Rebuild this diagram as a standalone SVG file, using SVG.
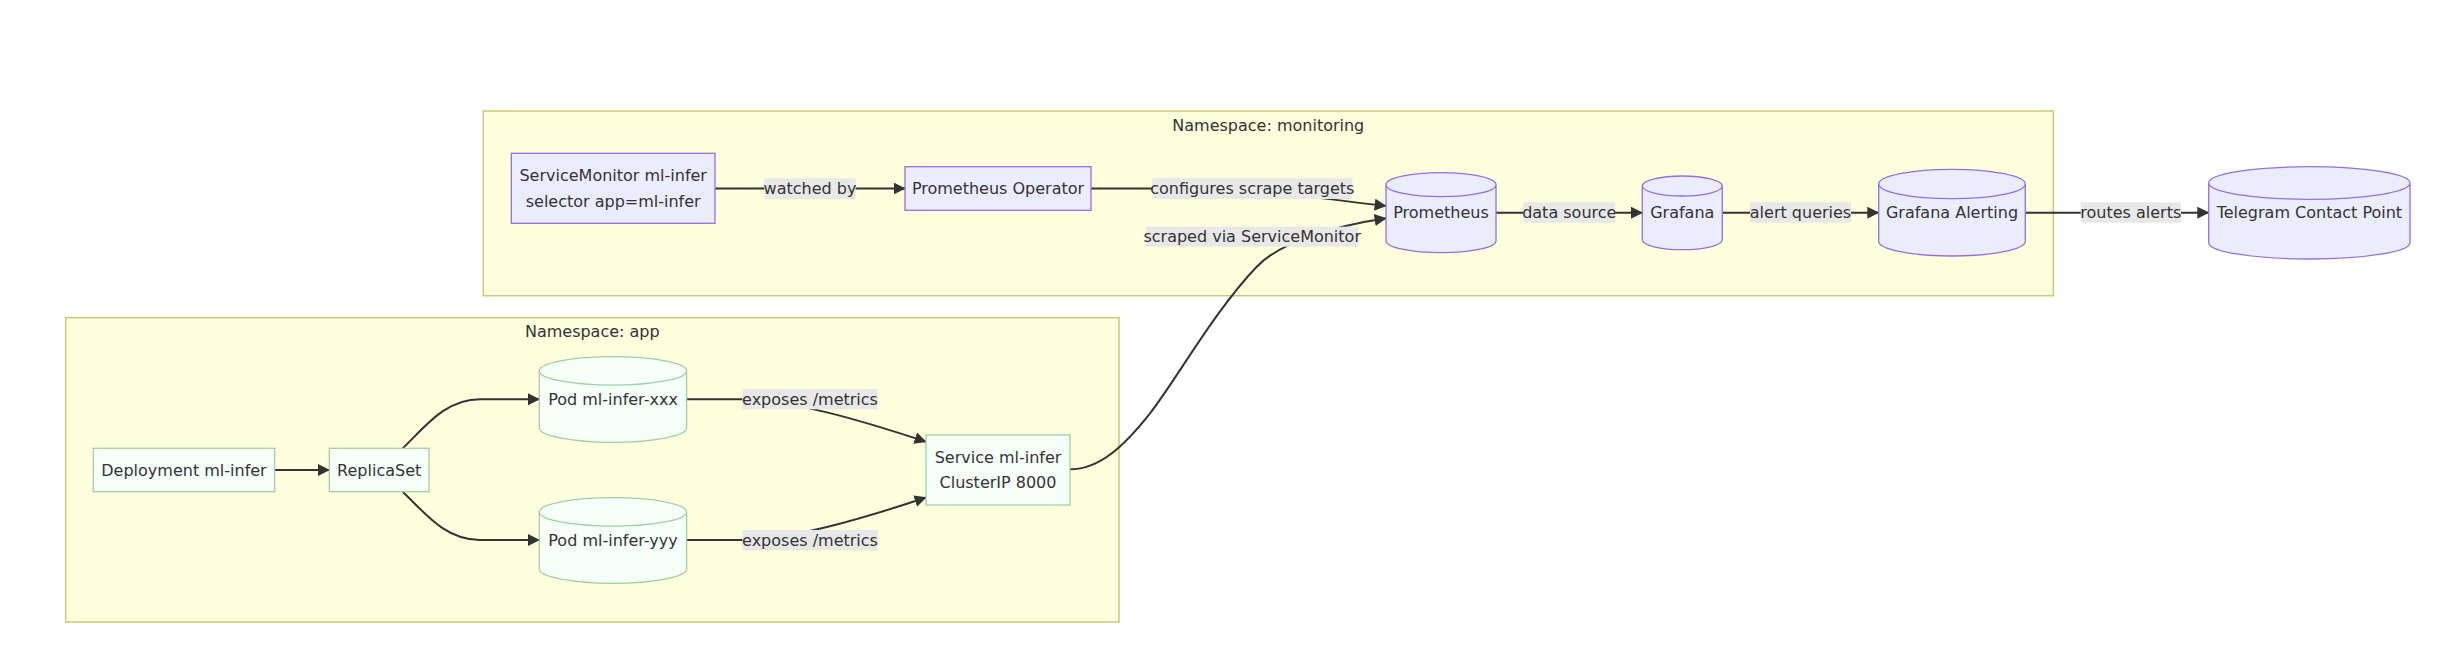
<svg xmlns="http://www.w3.org/2000/svg" width="2462" height="656" viewBox="0 0 2462 656">
  <defs>
    <marker id="arrow" viewBox="0 0 10 10" refX="9.5" refY="5" markerUnits="userSpaceOnUse" markerWidth="12" markerHeight="12" orient="auto">
      <path d="M0,0 L10,5 L0,10 z" fill="#333333"/>
    </marker>
    <style>
      text { font-family: "DejaVu Sans", Verdana, sans-serif; font-size: 16px; fill: #333333; text-anchor: middle; dominant-baseline: central; }
      .cluster { fill: #ffffde; stroke: #c9c97a; stroke-width: 1.5; }
      .mon { fill: #ececff; stroke: #9370db; stroke-width: 1.3; }
      .app { fill: #f6fff8; stroke: #a3cfa6; stroke-width: 1.3; }
      .edge { fill: none; stroke: #333333; stroke-width: 2; marker-end: url(#arrow); }
      .lbl { fill: #e8e8e8; }
    </style>
  </defs>
  <rect width="2462" height="656" fill="#ffffff"/>

  <g id="cluster-monitoring">
    <rect class="cluster" x="483.3" y="111" width="1570" height="184.7"/>
    <text x="1268.3" y="125">Namespace: monitoring</text>
  </g>
  <g id="cluster-app">
    <rect class="cluster" x="65.7" y="317.7" width="1053.3" height="304.3"/>
    <text x="592.3" y="331">Namespace: app</text>
  </g>

  <g id="connectors">
    <path class="edge" d="M715,188.5 L905,188.5"/>
    <path class="edge" d="M1091,188.5 L1200,188.5 C1260,188.5 1300,196 1386,206"/>
    <path class="edge" d="M1070,469.3 C1100,469.3 1125,445 1150,413.3 C1175,381.6 1215,310 1256.7,266.7 C1280,242 1335,226 1386,218.3"/>
    <path class="edge" d="M1496,212.7 L1642.3,212.7"/>
    <path class="edge" d="M1722.3,212.7 L1878.7,212.7"/>
    <path class="edge" d="M2025.3,212.7 L2208.7,212.7"/>
    <path class="edge" d="M274.7,470 L329.3,470"/>
    <path class="edge" d="M402.7,448.3 C425,427 445,399.3 480,399.3 L539.3,399.3"/>
    <path class="edge" d="M402.7,491.7 C425,513 445,540 480,540 L539.3,540"/>
    <path class="edge" d="M686.7,399.3 L740,399.3 C790,399.3 860,420 926,441.7"/>
    <path class="edge" d="M686.7,540 L740,540 C790,540 860,519.5 926,497.5"/>
  </g>

  <g id="edge-labels">
    <rect class="lbl" x="764.3" y="178.3" width="91.4" height="20.7"/>
    <text x="810" y="188.7">watched by</text>
    <rect class="lbl" x="1152.3" y="178.3" width="200" height="20.7"/>
    <text x="1252.3" y="188.7">configures scrape targets</text>
    <rect class="lbl" x="1146" y="226.7" width="212.3" height="20"/>
    <text x="1252.2" y="236.7">scraped via ServiceMonitor</text>
    <rect class="lbl" x="1523.3" y="202.3" width="92" height="20.4"/>
    <text x="1569.3" y="212.5">data source</text>
    <rect class="lbl" x="1750" y="202.3" width="101" height="20.4"/>
    <text x="1800.5" y="212.5">alert queries</text>
    <rect class="lbl" x="2080.7" y="202.3" width="100.3" height="20.4"/>
    <text x="2130.8" y="212.5">routes alerts</text>
    <rect class="lbl" x="742.3" y="389" width="135.4" height="20.3"/>
    <text x="810" y="399.2">exposes /metrics</text>
    <rect class="lbl" x="742.3" y="530" width="135.4" height="20.3"/>
    <text x="810" y="540.2">exposes /metrics</text>
  </g>

  <g id="node-servicemonitor">
    <rect class="mon" x="511.3" y="153.3" width="203.7" height="70"/>
    <text x="613.2" y="175.8">ServiceMonitor ml-infer</text>
    <text x="613.2" y="201">selector app=ml-infer</text>
  </g>
  <g id="node-prometheus-operator">
    <rect class="mon" x="905" y="166.7" width="186" height="43.6"/>
    <text x="998" y="188.5">Prometheus Operator</text>
  </g>
  <g id="node-prometheus">
    <path class="mon" d="M1386,184.7 a55,12 0 0 0 110,0 a55,12 0 0 0 -110,0 l0,56 a55,12 0 0 0 110,0 l0,-56"/>
    <text x="1441" y="212.7">Prometheus</text>
  </g>
  <g id="node-grafana">
    <path class="mon" d="M1642.3,186 a40,10 0 0 0 80,0 a40,10 0 0 0 -80,0 l0,53.7 a40,10 0 0 0 80,0 l0,-53.7"/>
    <text x="1682.3" y="212.7">Grafana</text>
  </g>
  <g id="node-grafana-alerting">
    <path class="mon" d="M1878.7,184 a73.3,14.7 0 0 0 146.6,0 a73.3,14.7 0 0 0 -146.6,0 l0,57.3 a73.3,14.7 0 0 0 146.6,0 l0,-57.3"/>
    <text x="1952" y="212.7">Grafana Alerting</text>
  </g>
  <g id="node-telegram">
    <path class="mon" d="M2208.7,183 a100.65,16.3 0 0 0 201.3,0 a100.65,16.3 0 0 0 -201.3,0 l0,59.7 a100.65,16.3 0 0 0 201.3,0 l0,-59.7"/>
    <text x="2309.4" y="212.7">Telegram Contact Point</text>
  </g>

  <g id="node-deployment">
    <rect class="app" x="93.3" y="448.3" width="181.4" height="43.4"/>
    <text x="184" y="470">Deployment ml-infer</text>
  </g>
  <g id="node-replicaset">
    <rect class="app" x="329.3" y="448.3" width="99.7" height="43.4"/>
    <text x="379.2" y="470">ReplicaSet</text>
  </g>
  <g id="node-pod-xxx">
    <path class="app" d="M539.3,370.9 a73.65,14.2 0 0 0 147.3,0 a73.65,14.2 0 0 0 -147.3,0 l0,57.2 a73.65,14.2 0 0 0 147.3,0 l0,-57.2"/>
    <text x="613" y="399.3">Pod ml-infer-xxx</text>
  </g>
  <g id="node-pod-yyy">
    <path class="app" d="M539.3,511.9 a73.65,14.2 0 0 0 147.3,0 a73.65,14.2 0 0 0 -147.3,0 l0,57.2 a73.65,14.2 0 0 0 147.3,0 l0,-57.2"/>
    <text x="613" y="540">Pod ml-infer-yyy</text>
  </g>
  <g id="node-service">
    <rect class="app" x="926" y="435" width="144" height="70"/>
    <text x="998" y="457.5">Service ml-infer</text>
    <text x="998" y="482.5">ClusterIP 8000</text>
  </g>
</svg>
